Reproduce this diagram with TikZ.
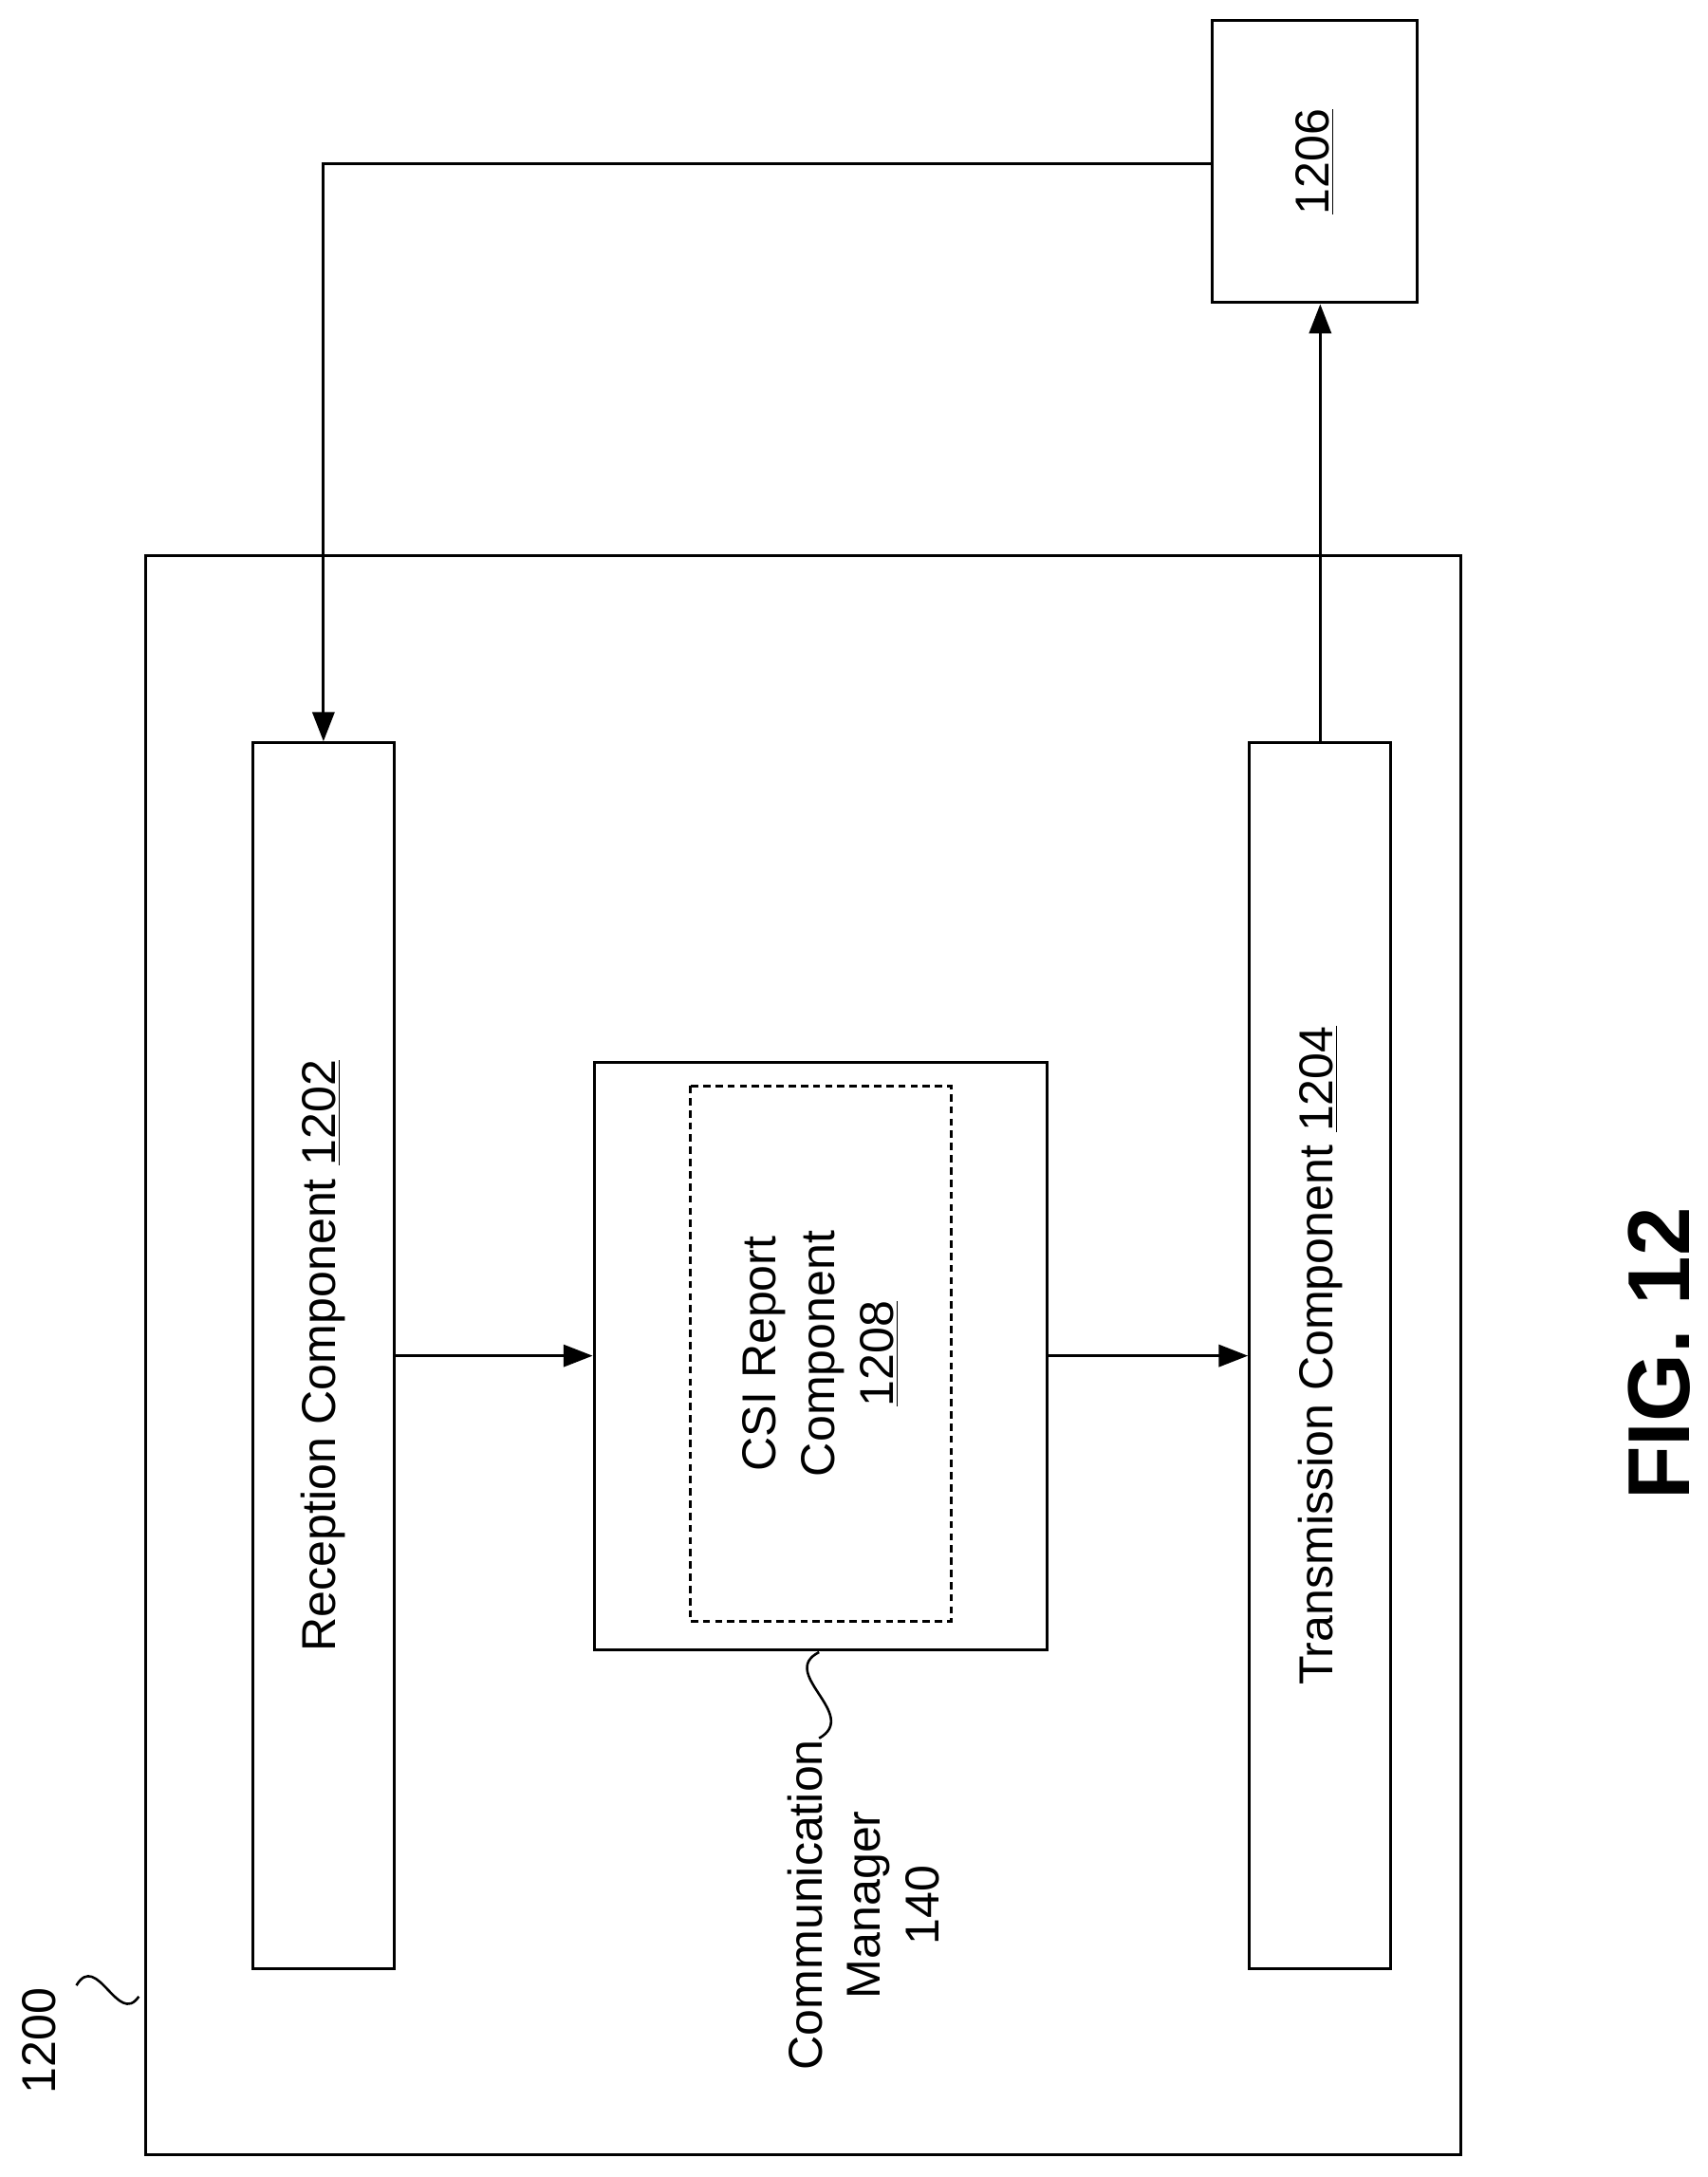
\documentclass[tikz,border=0pt]{standalone}
\usepackage{fontspec}
\setmainfont{Liberation Sans}
\usetikzlibrary{arrows.meta}
\begin{document}
\begin{tikzpicture}[x=0.02cm,y=-0.02cm,
  box/.style={draw,line width=1.2pt},
  arr/.style={line width=1.2pt,-{Triangle[length=12pt,width=9pt]}},
  lbl/.style={rotate=90,font=\fontsize{19.5}{24}\selectfont,align=center}]
\useasboundingbox (0,0) rectangle (1230,1568);
\draw[box] (105,400) rectangle (1052,1552);
\node[box,minimum width=102*0.02cm,minimum height=883*0.02cm] (rx) at (233,976.5) {};
\node[lbl] at (rx) {Reception Component \underline{1202}};
\node[box,minimum width=102*0.02cm,minimum height=883*0.02cm] (tx) at (951,976.5) {};
\node[lbl] at (tx) {Transmission Component \underline{1204}};
\node[box,minimum width=326*0.02cm,minimum height=423*0.02cm] (cm) at (591,976.5) {};
\draw[line width=1.2pt,dash pattern=on 3pt off 2pt] (497,782) rectangle (685,1168);
\node[lbl] at (591,975) {CSI Report\\Component\\\underline{1208}};
\node[box,minimum width=148*0.02cm,minimum height=203*0.02cm] (ex) at (947,116.5) {};
\node[lbl] at (ex) {\underline{1206}};
\coordinate (c1) at (233,118);
\draw[arr] (ex.west |- c1) -- (c1) -- (rx.north);
\draw[arr] (rx.east) -- (cm.west);
\draw[arr] (cm.east) -- (tx.west);
\draw[arr] (tx.north) -- (tx.north |- ex.south);
\node[lbl] (cml) at (622,1372) {Communication\\Manager\\140};
\draw[line width=1pt] (590,1190) .. controls (560,1205) and (620,1235) .. (590,1252);
\node[rotate=90,font=\fontsize{19.5}{24}\selectfont] (l1200) at (28,1470) {1200};
\draw[line width=1pt] (55,1430) .. controls (70,1405) and (85,1460) .. (100,1438);
\node[rotate=90,font=\bfseries\fontsize{36}{40}\selectfont] (fig) at (1195,975) {FIG. 12};
\end{tikzpicture}
\end{document}
